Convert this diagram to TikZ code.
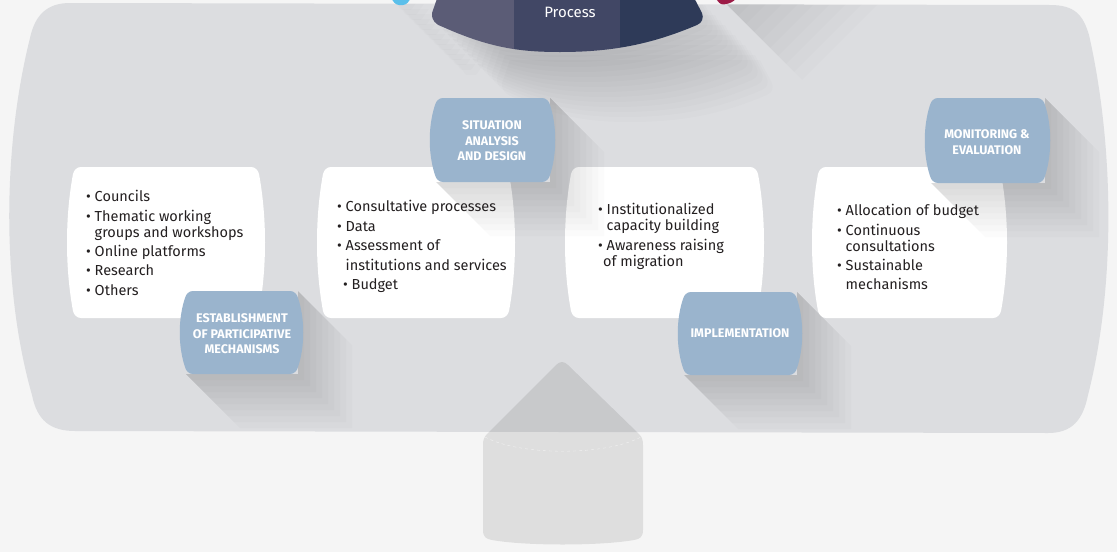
\documentclass[tikz,border=0pt]{standalone}
\usepackage{fontspec}
\setmainfont{Fira Sans}

\definecolor{bggray}{HTML}{F5F5F5}
\definecolor{panelgray}{HTML}{DCDDE0}
\definecolor{labelblue}{HTML}{9AB4CD}
\definecolor{procleft}{HTML}{5B5C76}
\definecolor{procmid}{HTML}{414765}
\definecolor{procright}{HTML}{2E3A58}
\definecolor{topblue}{HTML}{5BBFEA}
\definecolor{topred}{HTML}{9C1A46}
\definecolor{textdark}{HTML}{231F20}

% outline of the big grey panel
\newcommand{\panelpath}{(70,3) -- (1050,5) .. controls (1075,5) and (1083,15) .. (1089,35)
  .. controls (1115,150) and (1115,290) .. (1088,395) .. controls (1083,420) and (1072,433) .. (1048,433)
  -- (75,431) .. controls (50,431) and (37,420) .. (32,395) .. controls (2,290) and (2,150) .. (30,38)
  .. controls (35,15) and (47,3) .. (70,3) -- cycle}
% outline of the process shape
\newcommand{\procpath}{(440,-10) -- (432,13) .. controls (431,20) and (436,25) .. (443,27)
  .. controls (490,48) and (520,52) .. (560,52) .. controls (610,52) and (650,45) .. (697,25)
  .. controls (702,23) and (704,18) .. (702,13) -- (690,-10) -- cycle}

% barrel: style, left, top, right, bottom, bulge
\newcommand{\barrelshape}[6]{%
  \path[#1] ({#2+7},#3) -- ({#4-7},#3)
    .. controls ({#4-3},#3) and (#4,{#3+3}) .. ({#4+1},{#3+7})
    .. controls ({#4+#6},{(2*#3+#5)/3}) and ({#4+#6},{(#3+2*#5)/3}) .. ({#4+1},{#5-7})
    .. controls (#4,{#5-3}) and ({#4-3},#5) .. ({#4-7},#5)
    -- ({#2+7},#5)
    .. controls ({#2+3},#5) and (#2,{#5-3}) .. ({#2-1},{#5-7})
    .. controls ({#2-#6},{(#3+2*#5)/3}) and ({#2-#6},{(2*#3+#5)/3}) .. ({#2-1},{#3+7})
    .. controls (#2,{#3+3}) and ({#2+3},#3) .. ({#2+7},#3) -- cycle;}

% soft shadow of a label: left, top, right, bottom
\newcommand{\castshadow}[4]{%
  \foreach \s in {6,12,...,54}
    \fill[shadowlayer] (#3,#2) -- ({#3+\s},{#2+\s}) -- ({#3+\s},{#4+\s}) -- ({#1+\s},{#4+\s})
      -- (#1,#4) -- (#3,#4) -- cycle;}

\begin{document}
\begin{tikzpicture}[x=1pt,y=-1pt,
    shadowlayer/.style={fill=black, fill opacity=0.015},
    cardtext/.style={anchor=north west, inner sep=0pt, align=left, text=textdark,
      font=\fontsize{14.5}{16}\selectfont},
    labeltext/.style={align=center, inner sep=0pt, text=white,
      font=\bfseries\fontsize{12.5}{15.5}\selectfont},
    proctext/.style={text=white, inner sep=0pt, font=\fontsize{15}{18}\selectfont}]
\useasboundingbox (0,0) rectangle (1117,552);
\fill[bggray] (0,0) rectangle (1117,552);
\fill[panelgray] \panelpath;

\begin{scope}
  \clip \panelpath;
  % shadows of the process shapes
  \foreach \s in {5,10,...,70} {
    \fill[shadowlayer, fill opacity=0.011, shift={(\s,\s)}] \procpath;
    \fill[shadowlayer, fill opacity=0.011, shift={(\s,\s)}] (388,-6) -- (396,5) -- (406,5) -- (414,-6) -- cycle;
  }
  \foreach \s in {8,16,...,80}
    \fill[shadowlayer, fill opacity=0.012] (722,0) -- ({722+2*\s},0) -- ({722+\s},\s) -- cycle;
  % cards
  \barrelshape{fill=white}{74}{167}{258}{318}{9}
  \barrelshape{fill=white}{324}{167}{508}{318}{9}
  \barrelshape{fill=white}{572}{167}{757}{318}{9}
  \barrelshape{fill=white}{819}{167}{1000}{318}{9}
  % label shadows
  \castshadow{186}{291}{298}{374}
  \castshadow{436}{98}{550}{182}
  \castshadow{684}{292}{797}{375}
  \castshadow{931}{98}{1045}{183}
\end{scope}

% labels
\barrelshape{fill=labelblue}{186}{291}{297}{374}{8}
\barrelshape{fill=labelblue}{436}{98}{549}{182}{8}
\barrelshape{fill=labelblue}{684}{292}{796}{375}{8}
\barrelshape{fill=labelblue}{931}{98}{1044}{183}{8}

% process shape at the top
\fill[topblue, rounded corners=3] (388,-6) -- (396,5) -- (406,5) -- (414,-6) -- cycle;
\fill[topred, rounded corners=3] (712,-6) -- (721,5) -- (731,3) -- (742,-6) -- cycle;
\begin{scope}
  \clip \procpath;
  \fill[procleft] (420,-10) rectangle (514,60);
  \fill[procmid] (514,-10) rectangle (620,60);
  \fill[procright] (620,-10) rectangle (710,60);
\end{scope}
\node[proctext] (process) at (570,12) {Process};

% shape at the bottom
\fill[black, fill opacity=0.09] (483,445) .. controls (483,440) and (484,437) .. (487,434)
  -- (556,365) .. controls (560,361) and (564,361) .. (568,365) -- (639,434)
  .. controls (642,437) and (643,440) .. (643,445) -- (643,530)
  .. controls (643,537) and (640,539) .. (634,540) .. controls (600,546) and (525,546) .. (492,540)
  .. controls (486,539) and (483,537) .. (483,530) -- cycle;
\draw[white, opacity=0.6, dashed, thin] (485,437) .. controls (520,456) and (605,456) .. (641,437);

% card texts
\node[cardtext] (mechlist) at (86,190) {\textbullet\ Councils\\[3.5pt]
  \textbullet\ Thematic working\\
  \phantom{\textbullet\ }groups and workshops\\[3pt]
  \textbullet\ Online platforms\\[3.5pt]
  \textbullet\ Research\\[3.5pt]
  \textbullet\ Others};
\node[cardtext] (situationlist) at (337,200) {\textbullet\ Consultative processes\\[3.5pt]
  \textbullet\ Data\\[3.5pt]
  \textbullet\ Assessment of\\[3.5pt]
  \phantom{\textbullet\ }institutions and services\\[3.5pt]
  \hspace*{6pt}\textbullet\ Budget};
\node[cardtext] (implementationlist) at (598,203) {\textbullet\ Institutionalized\\
  \phantom{\textbullet\ }capacity building\\[4pt]
  \textbullet\ Awareness raising\\
  \hspace*{5pt}of migration};
\node[cardtext] (monitoringlist) at (837,204) {\textbullet\ Allocation of budget\\[3.5pt]
  \textbullet\ Continuous\\
  \phantom{\textbullet\ }consultations\\[3.5pt]
  \textbullet\ Sustainable\\[3pt]
  \phantom{\textbullet\ }mechanisms};

% label texts
\node[labeltext] (participation) at (242,334) {ESTABLISHMENT\\OF PARTICIPATIVE\\MECHANISMS};
\node[labeltext] (situation) at (492,141) {SITUATION\\ANALYSIS\\AND DESIGN};
\node[labeltext] (implementation) at (740,333) {IMPLEMENTATION};
\node[labeltext] (monitoring) at (987,142) {MONITORING \&\\EVALUATION};
\end{tikzpicture}
\end{document}
